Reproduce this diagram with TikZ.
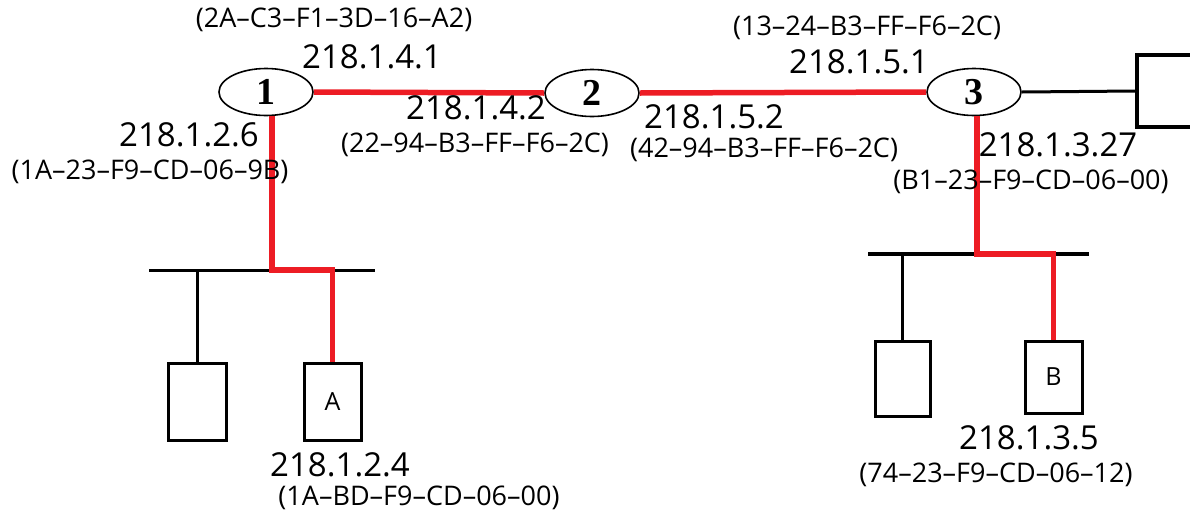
\documentclass[tikz,border=0pt]{standalone}
\usepackage{fontspec}
\setmainfont{Open Sans}
\newfontfamily\numfont{Liberation Serif}
\usetikzlibrary{shapes.geometric}
\definecolor{pathred}{RGB}{237,28,36}
\begin{document}
\begin{tikzpicture}[x=1pt,y=-1pt,
  router/.style={ellipse, draw, line width=1.6pt, minimum width=94pt, minimum height=47pt, inner sep=0pt, font=\numfont\bfseries\fontsize{38}{38}\selectfont},
  host/.style={draw, line width=3pt, inner sep=0pt, font=\fontsize{25}{25}\selectfont},
  ip/.style={font=\fontsize{33}{33}\selectfont, inner sep=0pt},
  mac/.style={font=\fontsize{27}{27}\selectfont, inner sep=0pt},
  redpath/.style={draw=pathred, line width=5.5pt},
  wire/.style={draw, line width=3pt}]
\useasboundingbox (0,0) rectangle (1190,512);

% routers
\node[router] (r1) at (266,92) {1};
\node[router] (r2) at (592,93) {2};
\node[router] (r3) at (974,92) {3};

% hosts
\node[host, minimum width=58pt, minimum height=77pt] (h1) at (197,401.5) {};
\node[host, minimum width=57pt, minimum height=77pt] (hA) at (332.5,401.5) {A};
\node[host, minimum width=55pt, minimum height=75pt] (h3) at (902.5,378.5) {};
\node[host, minimum width=57pt, minimum height=72pt] (hB) at (1053.5,377) {B};
\node[host, line width=4pt, minimum width=76pt, minimum height=72pt] (hR) at (1175,91) {};

% buses
\coordinate (busL1) at (149,270);
\coordinate (busL2) at (375,270);
\coordinate (busR1) at (868,254);
\coordinate (busR2) at (1089,254);
\draw[wire] (busL1) -- (busL2);
\draw[wire, line width=4pt] (busR1) -- (busR2);
\coordinate (jL) at (hA.north |- busL1);
\coordinate (jR) at (hB.north |- busR1);

% black connectors
\draw[wire] (h1.north) -- (h1.north |- busL1);
\draw[wire] (h3.north) -- (h3.north |- busR1);
\draw[wire] (r3.east) -- (hR.west);

% red path
\draw[redpath] (r1.east) -- (r2.west);
\draw[redpath] (r2.east) -- (r3.west);
\draw[redpath] ([xshift=6]r1.south) |- (jL) -- (hA.north);
\draw[redpath] ([xshift=3]r3.south) |- (jR) -- (hB.north);

% labels
\node[mac] (m141) at (334,20) {(2A–C3–F1–3D–16–A2)};
\node[ip] (i141) at (372,57) {218.1.4.1};
\node[ip] (i142) at (476,108) {218.1.4.2};
\node[mac] (m142) at (475,145) {(22–94–B3–FF–F6–2C)};
\node[ip] (i126) at (189,135) {218.1.2.6};
\node[mac] (m126) at (150,172) {(1A–23–F9–CD–06–9B)};
\node[mac] (m151) at (867,28) {(13–24–B3–FF–F6–2C)};
\node[ip] (i151) at (859,62) {218.1.5.1};
\node[ip] (i152) at (714,117) {218.1.5.2};
\node[mac] (m152) at (764,150) {(42–94–B3–FF–F6–2C)};
\node[ip] (i1327) at (1058,145) {218.1.3.27};
\node[mac] (m1327) at (1031,182) {(B1–23–F9–CD–06–00)};
\node[ip] (i124) at (340,465) {218.1.2.4};
\node[mac] (m124) at (419,498) {(1A–BD–F9–CD–06–00)};
\node[ip] (i135) at (1029,438) {218.1.3.5};
\node[mac] (m135) at (996,475) {(74–23–F9–CD–06–12)};
\end{tikzpicture}
\end{document}
